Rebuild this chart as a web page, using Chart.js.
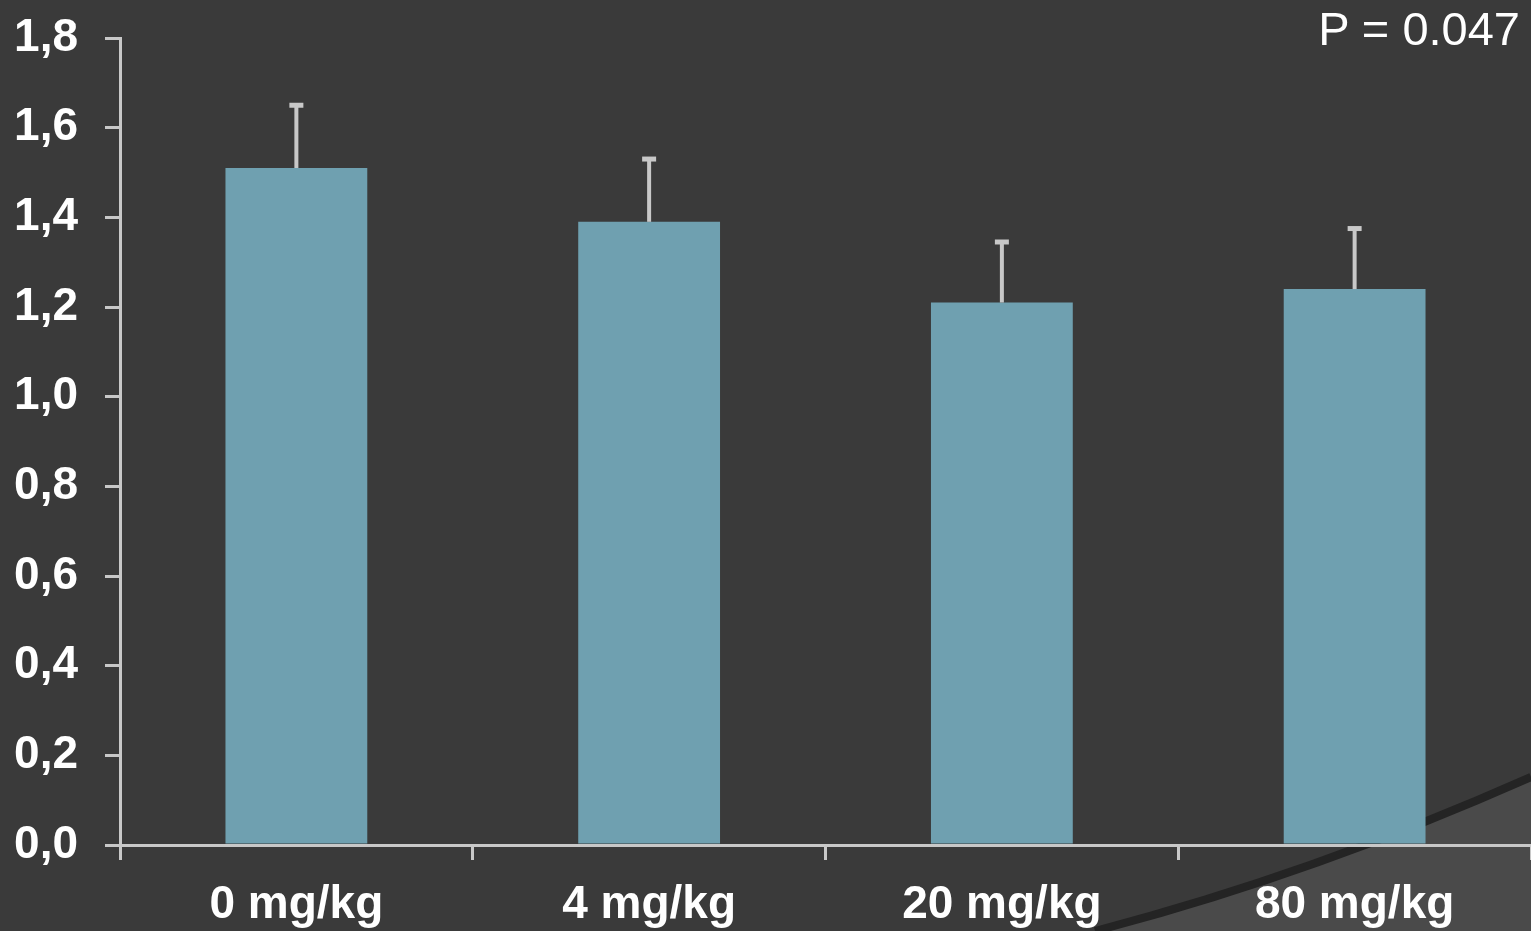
<!doctype html>
<html lang="en">

<head>
    <meta charset="utf-8">
    <title>Dose response</title>
    <script src="https://cdn.jsdelivr.net/npm/chart.js@4"></script>
    <style>
        html, body { margin: 0; padding: 0; background: #3a3a3a; overflow: hidden; }
        .chartBox { position: relative; width: 1531px; height: 931px; }
        .pval {
            position: absolute; right: 11px; top: 5px;
            font: 47px/47px "Liberation Sans", Arial, sans-serif;
            color: #ffffff;
        }
    </style>
</head>

<body>
    <div class="chartBox">
        <canvas id="myChart"></canvas>
        <div class="pval">P = 0.047</div>
    </div>

    <script>
        // data
        const labels = ['0 mg/kg', '4 mg/kg', '20 mg/kg', '80 mg/kg'];
        const means = [1.51, 1.39, 1.21, 1.24];
        const errors = [0.14, 0.14, 0.135, 0.135];
        const yTicks = [0, 0.2, 0.4, 0.6, 0.8, 1.0, 1.2, 1.4, 1.6, 1.8];

        const axisColor = '#c8c8c8';
        const tickFont = { family: '"Liberation Sans", Arial, sans-serif', size: 46, weight: 'bold' };

        // background swoosh in the lower right corner
        const swoosh = {
            id: 'swoosh',
            beforeDraw(chart) {
                const ctx = chart.ctx;
                ctx.save();
                ctx.beginPath();
                ctx.moveTo(1095, 931);
                ctx.quadraticCurveTo(1310, 875, 1531, 777);
                ctx.lineTo(1531, 931);
                ctx.closePath();
                ctx.fillStyle = '#4a4a4a';
                ctx.fill();
                ctx.beginPath();
                ctx.moveTo(1095, 931);
                ctx.quadraticCurveTo(1310, 875, 1531, 777);
                ctx.lineWidth = 8;
                ctx.strokeStyle = '#242424';
                ctx.stroke();
                ctx.restore();
            }
        };

        // upper error bars
        const errorBars = {
            id: 'errorBars',
            afterDatasetsDraw(chart) {
                const ctx = chart.ctx;
                const y = chart.scales.y;
                const meta = chart.getDatasetMeta(0);
                ctx.save();
                ctx.strokeStyle = axisColor;
                meta.data.forEach((bar, i) => {
                    const top = y.getPixelForValue(means[i] + errors[i]);
                    const base = y.getPixelForValue(means[i]);
                    ctx.lineWidth = 4;
                    ctx.beginPath();
                    ctx.moveTo(bar.x, base);
                    ctx.lineTo(bar.x, top);
                    ctx.stroke();
                    ctx.lineWidth = 5;
                    ctx.beginPath();
                    ctx.moveTo(bar.x - 7, top);
                    ctx.lineTo(bar.x + 7, top);
                    ctx.stroke();
                });
                ctx.restore();
            }
        };

        const config = {
            type: 'bar',
            data: {
                labels: labels,
                datasets: [{
                    data: means,
                    backgroundColor: '#6fa0b0',
                    borderWidth: 0,
                    categoryPercentage: 1,
                    barPercentage: 0.402
                }]
            },
            options: {
                responsive: true,
                maintainAspectRatio: false,
                animation: false,
                layout: { padding: { top: 38, right: -1, left: 0, bottom: 0 } },
                plugins: {
                    legend: { display: false },
                    tooltip: { enabled: false }
                },
                scales: {
                    x: {
                        afterFit: s => { s.height = 86; s.paddingLeft = 0; s.paddingRight = 0; },
                        grid: {
                            drawOnChartArea: false,
                            drawTicks: true,
                            tickLength: 15,
                            color: axisColor,
                            lineWidth: 3
                        },
                        border: { color: axisColor, width: 3 },
                        ticks: { color: '#ffffff', font: tickFont, padding: 18 }
                    },
                    y: {
                        min: 0,
                        max: 1.8,
                        afterFit: s => { s.width = 120; s.paddingTop = 0; s.paddingBottom = 0; },
                        afterBuildTicks: s => { s.ticks = yTicks.map(v => ({ value: v })); },
                        grid: {
                            drawOnChartArea: false,
                            drawTicks: true,
                            tickLength: 15,
                            color: axisColor,
                            lineWidth: 3
                        },
                        border: { color: axisColor, width: 3 },
                        ticks: {
                            color: '#ffffff',
                            font: tickFont,
                            padding: 27,
                            callback: v => v.toFixed(1).replace('.', ',')
                        }
                    }
                }
            },
            plugins: [swoosh, errorBars]
        };

        const myChart = new Chart(document.getElementById('myChart'), config);
    </script>

</body>

</html>
